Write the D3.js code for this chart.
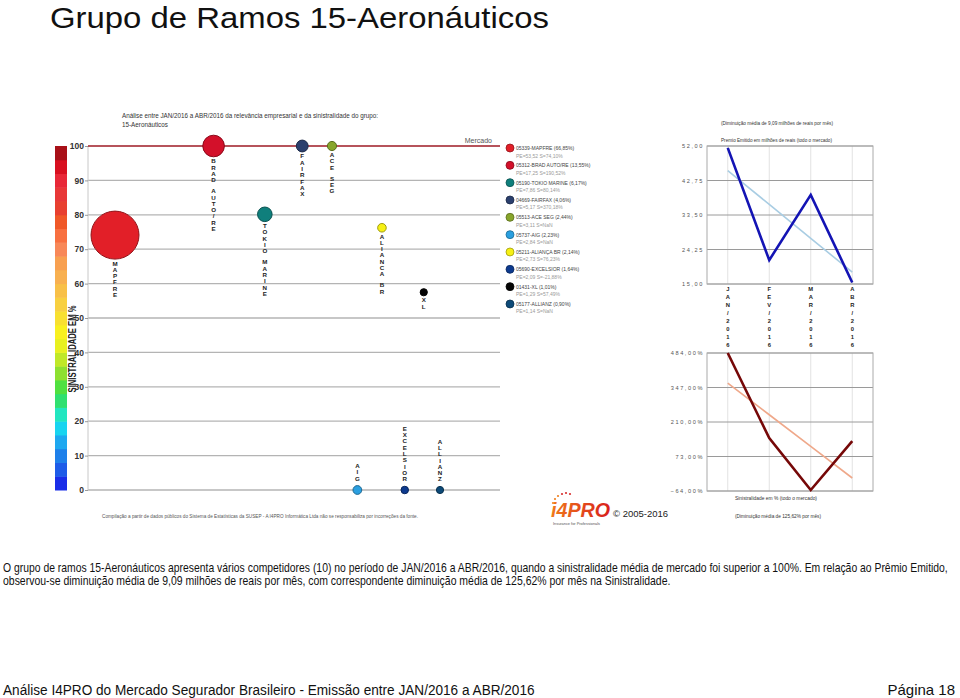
<!DOCTYPE html>
<html><head><meta charset="utf-8">
<script src="https://cdn.jsdelivr.net/npm/d3@7"></script>
<style>body{margin:0;background:#fff}svg{display:block}text{font-family:"Liberation Sans",Arial,sans-serif}</style>
</head><body><svg id="c" width="960" height="698"></svg>
<script>
// ---------- data ----------
const companies = ["MAPFRE","BRAD AUTO/RE","TOKIO MARINE","FAIRFAX","ACE SEG","AIG","ALIANCA BR","EXCELSIOR","XL","ALLIANZ"];
const legendNames = ["05339-MAPFRE","05312-BRAD AUTO/RE","05190-TOKIO MARINE","04669-FAIRFAX","05513-ACE SEG","05737-AIG","05211-ALIANÇA BR","05690-EXCELSIOR","01431-XL","05177-ALLIANZ"];
const shares = [66.85,13.55,6.17,4.06,2.44,2.23,2.14,1.64,1.01,0.90];
const shareLabels = ["66,85%","13,55%","6,17%","4,06%","2,44%","2,23%","2,14%","1,64%","1,01%","0,90%"];
const premiumLabels = ["53,52","17,25","7,86","5,17","3,11","2,84","2,73","2,09","1,29","1,14"];
const lossLabels = ["74,10%","190,52%","80,14%","370,18%","NaN","NaN","76,23%","-21,88%","57,49%","NaN"];
const lossPlotted = [74.10,100,80.14,100,100,0,76.23,0,57.49,0];
const bubbleColors = ["#e21f28","#d3102a","#0f7f7c","#2b3f6d","#88a52b","#2a9fe0","#f6f014","#0d3a8e","#050505","#0d4a78"];
const scaleTicks = [0,10,20,30,40,50,60,70,80,90,100];
const barColors = ["#1a2ee8","#1e5ce8","#1e80ea","#1ea8f0","#18d4f0","#22e6c0","#30e070","#50e040","#8ee030","#c0e828","#e8f020","#f8f020","#f8e030","#f8d040","#f8c048","#f8b050","#f8a050","#f88858","#f87040","#f05828","#e84030","#e83838","#e82838","#d81020","#a81018"];
const months = ["JAN/2016","FEV/2016","MAR/2016","ABR/2016"];
const premiumSeries = [51.5,21.4,38.9,15.4];
const lossSeries = [484,146,-60,134];
const premiumTicks = [15,24.25,33.5,42.75,52];
const lossTicks = [-64,73,210,347,484];

// ---------- setup ----------
const svg = d3.select("#c");
svg.append("rect").attr("width",960).attr("height",698).attr("fill","#fff");
const fmt = d3.formatLocale({decimal:",",thousands:".",grouping:[3],currency:["R$",""]}).format(".2f");

// text squeezed horizontally to a target width (keeps glyph height)
function fitText(x0, yb, size, width, str, anchor){
  const t = svg.append("text").attr("x",0).attr("y",0).attr("font-size",size).attr("fill","#111").text(str);
  const w = t.node().getComputedTextLength();
  const k = width / w;
  const tx = anchor==="end" ? x0 - width : x0;
  t.attr("transform",`translate(${tx},${yb}) scale(${k},1)`);
  return t;
}
fitText(50,28,30,499,"Grupo de Ramos 15-Aeronáuticos");

// ---------- bubble chart ----------
const M = {x0:88,x1:500,y0:146,y1:490};
const y = d3.scaleLinear().domain([0,100]).range([M.y1,M.y0]);
const rScale = d3.scaleSqrt().domain([0,d3.max(shares)]).range([0,24]);
const sq = shares.map(Math.sqrt);
const cum = [0]; for(let i=1;i<sq.length;i++) cum.push(cum[i-1]+sq[i-1]+sq[i]);
const x = d3.scaleLinear().domain([0,cum[cum.length-1]]).range([115,440]);

const g = svg.append("g");
g.append("text").attr("x",122).attr("y",118).attr("font-size",6.3).attr("fill","#333")
  .attr("textLength",256).attr("lengthAdjust","spacingAndGlyphs")
  .text("Análise entre JAN/2016 a ABR/2016 da relevância empresarial e da sinistralidade do grupo:");
g.append("text").attr("x",122).attr("y",127).attr("font-size",6.3).attr("fill","#333").text("15-Aeronáuticos");

// colour bar
g.selectAll("rect.cb").data(barColors).join("rect").attr("class","cb")
  .attr("x",55).attr("width",12)
  .attr("y",(d,i)=>y((i+1)*4)).attr("height",(d,i)=>y(i*4)-y((i+1)*4)+0.5)
  .attr("fill",d=>d);
g.append("text").attr("transform",`translate(75.5,${(y(19)+y(63))/2}) rotate(-90)`)
  .attr("text-anchor","middle").attr("font-size",10).attr("font-weight","bold").attr("fill","#222")
  .attr("textLength",87).attr("lengthAdjust","spacingAndGlyphs").text("SINISTRALIDADE EM %");

// grid
g.selectAll("line.gr").data(scaleTicks.filter(t=>t<100)).join("line").attr("class","gr")
  .attr("x1",M.x0).attr("x2",M.x1).attr("y1",d=>y(d)).attr("y2",d=>y(d))
  .attr("stroke","#b4b4b4").attr("stroke-width",1.3);
g.append("line").attr("x1",M.x0).attr("x2",M.x0).attr("y1",M.y0).attr("y2",M.y1).attr("stroke","#c8c8c8");
g.append("line").attr("x1",M.x0).attr("x2",M.x1).attr("y1",y(100)).attr("y2",y(100))
  .attr("stroke","#9e1a24").attr("stroke-width",1.5);
g.append("text").attr("x",492).attr("y",y(100)-3).attr("text-anchor","end").attr("font-size",7).attr("fill","#555").text("Mercado");
const ax = d3.axisLeft(y).tickValues(scaleTicks).tickSize(3).tickPadding(1).tickFormat(d3.format("d"));
const axg = g.append("g").attr("transform",`translate(${M.x0},0)`).call(ax);
axg.select(".domain").remove();
axg.selectAll("line").attr("stroke","#999");
axg.selectAll("text").attr("font-size",8.5).attr("font-weight","bold").attr("fill","#333")
  .attr("font-family","Liberation Sans, Arial");

// vertical letter labels
function vertical(gg, str, cx, start, dir, step, spaceStep, fs){
  const chars = str.split("");
  let pos = [], acc = 0;
  chars.forEach((c,i)=>{ if(i>0) acc += (c===" "||chars[i-1]===" ") ? spaceStep/2 : step; pos.push(acc); });
  const total = acc;
  chars.forEach((c,i)=>{
    if(c===" ") return;
    const yy = dir>0 ? start+pos[i] : start-total+pos[i];
    gg.append("text").attr("x",cx).attr("y",yy).attr("text-anchor","middle")
      .attr("font-family","Liberation Mono, monospace").attr("font-weight","bold")
      .attr("font-size",fs).attr("fill","#222").text(c);
  });
}
const bubbles = companies.map((c,i)=>({name:c,share:shares[i],v:lossPlotted[i],col:bubbleColors[i],cx:x(cum[i]),r:Math.max(3.6,rScale(shares[i]))}));
bubbles.forEach(b=>{
  const cy = y(b.v);
  if(b.v<=0) vertical(g,b.name,b.cx,cy-b.r-5,-1,6.3,11,6.2);
  else vertical(g,b.name,b.cx,cy+b.r+6.5,1,6.3,11,6.2);
});
g.selectAll("circle.b").data(bubbles).join("circle").attr("class","b")
  .attr("cx",d=>d.cx).attr("cy",d=>y(d.v)).attr("r",d=>d.r)
  .attr("fill",d=>d.col).attr("stroke",d=>d3.color(d.col).darker(1.2)).attr("stroke-width",1);

g.append("text").attr("x",102).attr("y",518).attr("font-size",5).attr("fill","#555")
  .attr("textLength",316).attr("lengthAdjust","spacingAndGlyphs")
  .text("Compilação a partir de dados públicos do Sistema de Estatísticas da SUSEP - A I4PRO Informática Ltda não se responsabiliza por incorreções da fonte.");

// legend
const lg = svg.append("g");
companies.forEach((c,i)=>{
  const cy = 148 + i*17.33;
  lg.append("circle").attr("cx",510).attr("cy",cy).attr("r",4).attr("fill",bubbleColors[i])
    .attr("stroke",d3.color(bubbleColors[i]).darker(1.2)).attr("stroke-width",0.8);
  lg.append("text").attr("x",516).attr("y",cy+2).attr("font-size",5).attr("fill","#444")
    .text(`${legendNames[i]} (${shareLabels[i]})`);
  lg.append("text").attr("x",516).attr("y",cy+9.5).attr("font-size",5).attr("fill","#9a9a9a")
    .text(`PE=${premiumLabels[i]} S=${lossLabels[i]}`);
});

// ---------- right line charts ----------
const R = {x0:707,x1:873};
const xm = d3.scalePoint().domain(months).range([R.x0,R.x1]).padding(0.5);
function regression(vals){
  const n=vals.length, xs=d3.range(n), mx=d3.mean(xs), my=d3.mean(vals);
  const s = d3.sum(xs,(xx,i)=>(xx-mx)*(vals[i]-my))/d3.sum(xs,xx=>(xx-mx)**2);
  return xs.map(xx=>my+s*(xx-mx));
}
function lineChart(y0,y1,domain,ticks,vals,col,tcol,tickFmt){
  const ys = d3.scaleLinear().domain(domain).range([y1,y0]);
  const gg = svg.append("g");
  gg.selectAll("line.v").data(months).join("line").attr("x1",d=>xm(d)).attr("x2",d=>xm(d))
    .attr("y1",y0).attr("y2",y1).attr("stroke","#e2e2e2");
  gg.selectAll("line.h").data(ticks).join("line").attr("x1",R.x0).attr("x2",R.x1)
    .attr("y1",d=>ys(d)).attr("y2",d=>ys(d)).attr("stroke","#9a9a9a");
  gg.append("rect").attr("x",R.x0).attr("y",y0).attr("width",R.x1-R.x0).attr("height",y1-y0)
    .attr("fill","none").attr("stroke","#aaa");
  gg.selectAll("text.t").data(ticks).join("text").attr("x",704).attr("y",d=>ys(d)+2)
    .attr("text-anchor","end").attr("font-size",5.6).attr("letter-spacing",1.6).attr("fill","#555")
    .text(tickFmt);
  const ln = d3.line().x((d,i)=>xm(months[i])).y(d=>ys(d));
  gg.append("path").attr("d",ln(regression(vals))).attr("fill","none").attr("stroke",tcol).attr("stroke-width",1.6);
  gg.append("path").attr("d",ln(vals)).attr("fill","none").attr("stroke",col).attr("stroke-width",2.6).attr("stroke-linejoin","miter");
  return gg;
}
lineChart(146,284,[15,52],premiumTicks,premiumSeries,"#1414b4","#a9cde3",d=>fmt(d));
lineChart(353,491,[-64,484],lossTicks,lossSeries,"#760808","#efa88a",d=>fmt(d)+"%");
months.forEach(m=>vertical(svg,m,xm(m),291,1,8,8,5.8));

svg.append("text").attr("x",721).attr("y",125).attr("font-size",5).attr("fill","#333")
  .attr("textLength",112).attr("lengthAdjust","spacingAndGlyphs").text("(Diminuição média de 9,09 milhões de reais por mês)");
svg.append("text").attr("x",721).attr("y",142).attr("font-size",5).attr("fill","#333")
  .attr("textLength",111).attr("lengthAdjust","spacingAndGlyphs").text("Premio Emitido em milhões de reais (todo o mercado)");
svg.append("text").attr("x",735).attr("y",500).attr("font-size",5).attr("fill","#333")
  .attr("textLength",82).attr("lengthAdjust","spacingAndGlyphs").text("Sinistralidade em % (todo o mercado)");
svg.append("text").attr("x",735).attr("y",518).attr("font-size",5).attr("fill","#333")
  .attr("textLength",86).attr("lengthAdjust","spacingAndGlyphs").text("(Diminuição média de 125,62% por mês)");

// ---------- logo ----------
const logo = svg.append("g");
const grad = svg.append("defs").append("linearGradient").attr("id","lg1").attr("x1",0).attr("x2",1);
grad.append("stop").attr("offset","0").attr("stop-color","#f07a1a");
grad.append("stop").attr("offset","1").attr("stop-color","#d8201c");
logo.append("text").attr("x",551).attr("y",517).attr("font-size",20).attr("font-weight","bold")
  .attr("font-style","italic").attr("fill","url(#lg1)").attr("textLength",59).attr("lengthAdjust","spacingAndGlyphs").text("i4PRO");
[[553,503],[555,499],[558,496],[562,494],[566,493],[570,494]].forEach(([cx,cy],i)=>
  logo.append("circle").attr("cx",cx).attr("cy",cy).attr("r",1.1).attr("fill",i<3?"#f08020":"#d83030"));
logo.append("text").attr("x",553).attr("y",525).attr("font-size",3.8).attr("fill","#555")
  .attr("textLength",47).attr("lengthAdjust","spacingAndGlyphs").text("Insurance for Professionals");
logo.append("text").attr("x",613).attr("y",517).attr("font-size",9.5).attr("fill","#222").text("© 2005-2016");

// ---------- paragraph & footer ----------
fitText(3,572,12,945,"O grupo de ramos 15-Aeronáuticos apresenta vários competidores (10) no período de JAN/2016 a ABR/2016, quando a sinistralidade média de mercado foi superior a 100%. Em relação ao Prêmio Emitido,");
fitText(3,585,12,668,"observou-se diminuição média de 9,09 milhões de reais por mês, com correspondente diminuição média de 125,62% por mês na Sinistralidade.");
fitText(3,695,15,532,"Análise I4PRO do Mercado Segurador Brasileiro - Emissão entre JAN/2016 a ABR/2016");
svg.append("text").attr("x",955).attr("y",695).attr("text-anchor","end").attr("font-size",15).attr("fill","#111").text("Página 18");
</script></body></html>
